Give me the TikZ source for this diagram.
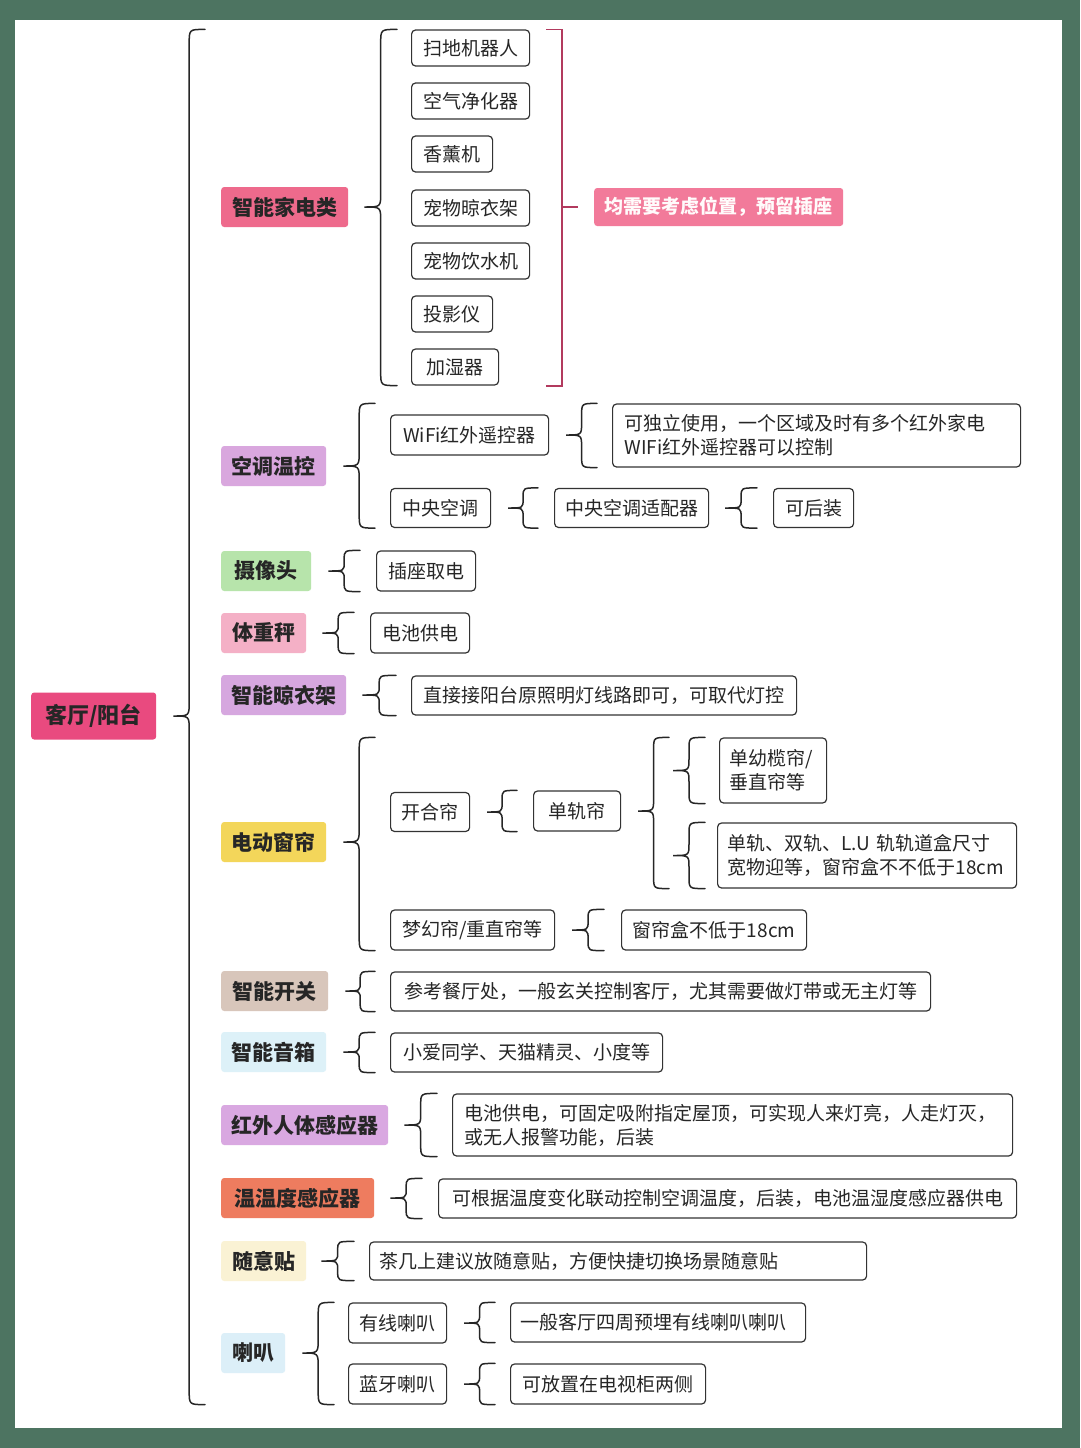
\documentclass[tikz,border=0pt]{standalone}
\usepackage{fontspec}
\newfontfamily\cjk{Noto Sans CJK SC}
\usetikzlibrary{calc}
\definecolor{bggreen}{HTML}{4D7461}
\definecolor{rootpink}{HTML}{E94A7F}
\definecolor{jdpink}{HTML}{EE6A8C}
\definecolor{notepink}{HTML}{F27A9A}
\definecolor{ktpurple}{HTML}{D9A7DE}
\definecolor{sxtgreen}{HTML}{B7E4AB}
\definecolor{tzcpink}{HTML}{F4B0C6}
\definecolor{lyjpurple}{HTML}{D6A7DF}
\definecolor{clyellow}{HTML}{F3D65A}
\definecolor{kgbrown}{HTML}{D8C6BB}
\definecolor{yxblue}{HTML}{DDF1F8}
\definecolor{hwpurple}{HTML}{D9A8E1}
\definecolor{wsdcoral}{HTML}{EE7C5F}
\definecolor{sytyellow}{HTML}{FAF2D4}
\definecolor{lbblue}{HTML}{DCEFF8}
\definecolor{redbr}{HTML}{B23A5E}
\tikzset{
  cat/.style={fill=#1, rounded corners=3pt, inner xsep=9pt, inner ysep=0pt,
    minimum height=40pt, font=\cjk\bfseries\fontsize{21}{24}\selectfont,
    text=black!85, anchor=west},
  item/.style={draw=black!80, line width=1.2pt, rounded corners=4pt, fill=white,
    inner xsep=10pt, inner ysep=0pt, minimum height=39pt,
    font=\cjk\fontsize{19}{24}\selectfont, text=black!85, anchor=west},
  topitem/.style={item, minimum height=36pt},
  mw/.style={minimum width=#1pt},
  brc/.style={draw=black!85, line width=1.5pt, line cap=round},
  redline/.style={draw=redbr, line width=1.8pt},
}
\newcommand\mybrace[4][12]{%
  \path (#2) coordinate (bC) (#3) coordinate (bT) (#4) coordinate (bB);
  \path ($(bC)!0.5!(bT)$) coordinate (bM);
  \draw[brc] (bT) .. controls (bM |- bT) .. ($(bM |- bT)+(0,#1)$)
    -- ($(bM |- bC)+(0,-#1)$) .. controls (bM |- bC) .. (bC)
    .. controls (bM |- bC) .. ($(bM |- bC)+(0,#1)$)
    -- ($(bM |- bB)+(0,-#1)$) .. controls (bM |- bB) .. (bB);
}
\begin{document}
\begin{tikzpicture}[x=1pt,y=-1pt]
\useasboundingbox (0,0) rectangle (1080,1448);
\fill[bggreen] (0,0) rectangle (1080,1448);
\fill[white] (15,20) rectangle (1062,1428);

% root
\node[cat=rootpink, mw=125, minimum height=47pt,
  font=\cjk\bfseries\fontsize{22}{24}\selectfont] (root) at (31,716) {客厅/阳台};

% categories
\node[cat=jdpink, mw=127] (jd) at (221,207) {智能家电类};
\node[cat=ktpurple, mw=105] (kt) at (221,466) {空调温控};
\node[cat=sxtgreen, mw=90] (sxt) at (221,571) {摄像头};
\node[cat=tzcpink, mw=85] (tzc) at (221,633) {体重秤};
\node[cat=lyjpurple, mw=125] (lyj) at (221,695) {智能晾衣架};
\node[cat=clyellow, mw=105] (cl) at (221,842) {电动窗帘};
\node[cat=kgbrown, mw=107] (kg) at (221,991) {智能开关};
\node[cat=yxblue, mw=105] (yx) at (221,1052) {智能音箱};
\node[cat=hwpurple, mw=167] (hw) at (221,1125) {红外人体感应器};
\node[cat=wsdcoral, mw=153] (wsd) at (221,1198) {温温度感应器};
\node[cat=sytyellow, mw=85] (syt) at (221,1261) {随意贴};
\node[cat=lbblue, mw=64] (lb) at (221,1353) {喇叭};

% smart appliances
\node[topitem, mw=118] (s1) at (411,48) {扫地机器人};
\node[topitem, mw=118] (s2) at (411,101) {空气净化器};
\node[topitem, mw=81] (s3) at (411,154) {香薰机};
\node[topitem, mw=118] (s4) at (411,208) {宠物晾衣架};
\node[topitem, mw=118] (s5) at (411,261) {宠物饮水机};
\node[topitem, mw=81] (s6) at (411,314) {投影仪};
\node[topitem, mw=87] (s7) at (411,367) {加湿器};
\node[fill=notepink, rounded corners=3pt, inner xsep=10pt, inner ysep=0pt, mw=249,
  minimum height=38pt, anchor=west, text=white!94!pink,
  font=\cjk\bfseries\fontsize{19}{24}\selectfont] (note) at (594,207) {均需要考虑位置，预留插座};

% air conditioning
\node[item, mw=158, minimum height=40pt] (wifi) at (390,435) {WiFi红外遥控器};
\node[item, text width=384pt, align=left, minimum height=63pt, inner xsep=12pt] (wifid) at (612,435.5)
  {可独立使用，一个区域及时有多个红外家电\\WIFi红外遥控器可以控制};
\node[item, mw=100] (zy) at (390,508) {中央空调};
\node[item, mw=154] (zysp) at (554,508) {中央空调适配器};
\node[item, mw=80] (khz) at (773,508) {可后装};

% camera, scale, rack
\node[item, mw=99, minimum height=40pt] (sxtc) at (376,571) {插座取电};
\node[item, mw=99, minimum height=40pt] (tzcc) at (370,633) {电池供电};
\node[item, mw=385] (lyjc) at (411,695.5) {直接接阳台原照明灯线路即可，可取代灯控};

% curtains
\node[item, mw=79] (kh) at (390,812) {开合帘};
\node[item, mw=87, minimum height=40pt] (dgl) at (533,811) {单轨帘};
\node[item, text width=87pt, align=left, minimum height=65pt] (dy1) at (719,770.5) {单幼榄帘/\\垂直帘等};
\node[item, text width=279pt, align=left, minimum height=65pt] (dy2) at (717,855.5)
  {单轨、双轨、L.U 轨轨道盒尺寸\\宽物迎等，窗帘盒不不低于18cm};
\node[item, mw=164, minimum height=40pt] (mh) at (390,930) {梦幻帘/重直帘等};
\node[item, mw=185, minimum height=40pt] (mhc) at (621,930) {窗帘盒不低于18cm};

% switches etc.
\node[item, mw=540] (kgc) at (390,991.5) {参考餐厅处，一般玄关控制客厅，尤其需要做灯带或无主灯等};
\node[item, mw=272] (yxc) at (390,1052.5) {小爱同学、天猫精灵、小度等};
\node[item, text width=536pt, align=left, minimum height=62pt, inner xsep=12pt] (hwc) at (452,1125)
  {电池供电，可固定吸附指定屋顶，可实现人来灯亮，人走灯灭，\\或无人报警功能，后装};
\node[item, mw=578] (wsdc) at (438,1198.5) {可根据温度变化联动控制空调温度，后装，电池温湿度感应器供电};
\node[item, text width=477pt, align=left, minimum height=38pt] (sytc) at (369,1261) {茶几上建议放随意贴，方便快捷切换场景随意贴};

% speakers
\node[item, mw=98, minimum height=40pt] (yxlb) at (348,1323) {有线喇叭};
\node[item, text width=275pt, align=left] (yxlbc) at (510,1322.5) {一般客厅四周预埋有线喇叭喇叭};
\node[item, mw=98, minimum height=40pt] (lylb) at (348,1384) {蓝牙喇叭};
\node[item, mw=195, minimum height=40pt] (lylbc) at (510,1384) {可放置在电视柜两侧};

% braces
\mybrace[14]{[xshift=17pt]root.east}{[xshift=-206pt]s1.north west}{[xshift=-143pt]lylb.south west}
\mybrace[14]{[xshift=16pt]jd.east}{[xshift=-14pt]s1.north west}{[xshift=-14pt]s7.south west}
\mybrace[14]{[xshift=17pt]kt.east}{[xshift=-237pt]wifid.north west}{[xshift=-15pt]zy.south west}
\mybrace[12]{[xshift=17pt]wifi.east}{[xshift=-15pt]wifid.north west}{[xshift=-15pt]wifid.south west}
\mybrace[9]{[xshift=17pt]zy.east}{[xshift=-16pt]zysp.north west}{[xshift=-16pt]zysp.south west}
\mybrace[9]{[xshift=16pt]zysp.east}{[xshift=-16pt]khz.north west}{[xshift=-16pt]khz.south west}
\mybrace[9]{[xshift=17pt]sxt.east}{[xshift=-16pt]sxtc.north west}{[xshift=-16pt]sxtc.south west}
\mybrace[9]{[xshift=16pt]tzc.east}{[xshift=-16pt]tzcc.north west}{[xshift=-16pt]tzcc.south west}
\mybrace[9]{[xshift=16pt]lyj.east}{[xshift=-15pt]lyjc.north west}{[xshift=-15pt]lyjc.south west}
\mybrace[14]{[xshift=17pt]cl.east}{[xshift=-344pt]dy1.north west}{[xshift=-15pt]mh.south west}
\mybrace[9]{[xshift=17pt]kh.east}{[xshift=-16pt]dgl.north west}{[xshift=-16pt]dgl.south west}
\mybrace[12]{[xshift=17pt]dgl.east}{[xshift=-50pt]dy1.north west}{[xshift=-48pt]dy2.south west}
\mybrace[12]{[xshift=-46pt]dy1.west}{[xshift=-14pt]dy1.north west}{[xshift=-14pt]dy1.south west}
\mybrace[12]{[xshift=-44pt]dy2.west}{[xshift=-12pt]dy2.north west}{[xshift=-12pt]dy2.south west}
\mybrace[9]{[xshift=17pt]mh.east}{[xshift=-17pt]mhc.north west}{[xshift=-17pt]mhc.south west}
\mybrace[9]{[xshift=17pt]kg.east}{[xshift=-15pt]kgc.north west}{[xshift=-15pt]kgc.south west}
\mybrace[9]{[xshift=17pt]yx.east}{[xshift=-15pt]yxc.north west}{[xshift=-15pt]yxc.south west}
\mybrace[12]{[xshift=16pt]hw.east}{[xshift=-15pt]hwc.north west}{[xshift=-15pt]hwc.south west}
\mybrace[9]{[xshift=16pt]wsd.east}{[xshift=-16pt]wsdc.north west}{[xshift=-16pt]wsdc.south west}
\mybrace[9]{[xshift=15pt]syt.east}{[xshift=-15pt]sytc.north west}{[xshift=-15pt]sytc.south west}
\mybrace[14]{[xshift=17pt]lb.east}{[xshift=-14pt]yxlb.north west}{[xshift=-14pt]lylb.south west}
\mybrace[9]{[xshift=17pt]yxlb.east}{[xshift=-15pt]yxlbc.north west}{[xshift=-15pt]yxlbc.south west}
\mybrace[9]{[xshift=17pt]lylb.east}{[xshift=-15pt]lylbc.north west}{[xshift=-15pt]lylbc.south west}

% red bracket
\draw[redline] ([xshift=16pt]s1.north east) -- ++(16,0) coordinate (rb1) -- (rb1 |- s7.south) -- ++(-16,0);
\draw[redline] (rb1 |- note.west) -- ([xshift=-16pt]note.west);
\end{tikzpicture}
\end{document}
